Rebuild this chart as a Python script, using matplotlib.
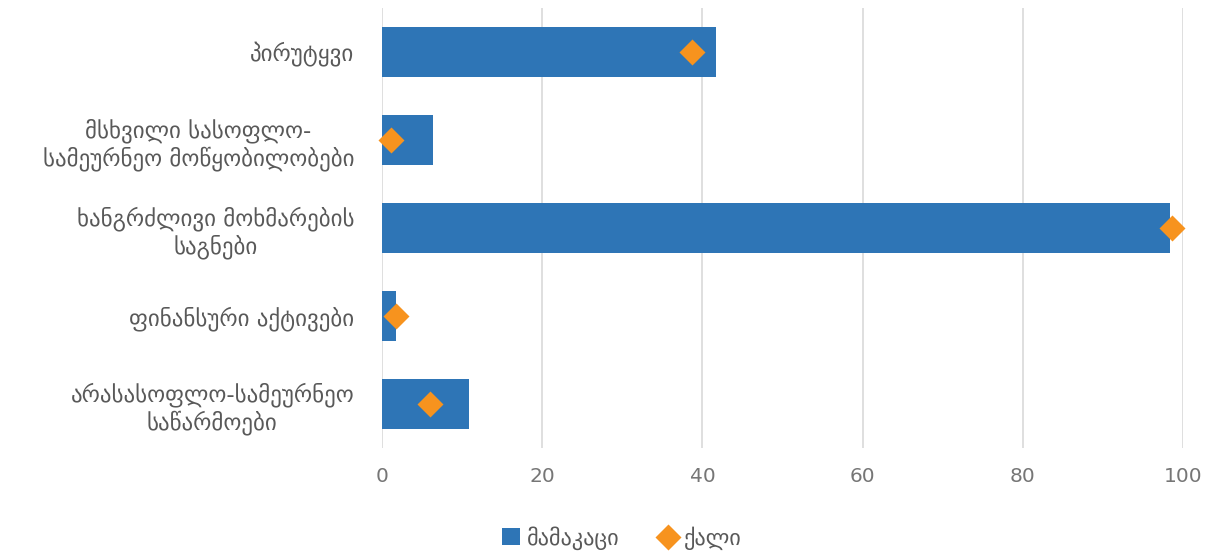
import numpy as np
import matplotlib.pyplot as plt

plt.rcParams['font.family'] = ['DejaVu Sans']

categories = ["არასასოფლო-სამეურნეო\nსაწარმოები",
              "ფინანსური აქტივები",
              "ხანგრძლივი მოხმარების\nსაგნები",
              "მსხვილი სასოფლო-\nსამეურნეო მოწყობილობები",
              "პირუტყვი"]
men = [10.8, 1.8, 98.4, 6.4, 41.7]
women = [6.0, 1.7, 98.6, 1.1, 38.7]
xticks = [0, 20, 40, 60, 80, 100]

BLUE = "#2E75B6"; ORANGE = "#F7931E"; GREY = "#595959"

fig = plt.figure(figsize=(12.09, 5.55), dpi=100)
ax = fig.add_axes([382 / 1209, 1 - 448 / 555, (1183 - 382) / 1209, (448 - 8) / 555])
y = np.arange(len(categories))
bars = ax.barh(y, men, height=0.57, color=BLUE, label="მამაკაცი", zorder=2)
pts, = ax.plot(women, y, "D", color=ORANGE, ms=13, mec="none", label="ქალი", zorder=3, clip_on=False)

ax.set_xlim(0, 100); ax.set_ylim(-0.5, 4.5)
ax.set_xticks(xticks)
ax.set_yticks(y)
ax.set_yticklabels(categories, multialignment="center")
ax.grid(axis="x", color="#D9D9D9", lw=1.2, zorder=0)
ax.grid(axis="y", visible=False)
for s in ax.spines.values():
    s.set_visible(False)
ax.tick_params(length=0, colors=GREY, labelsize=14.5)
ax.tick_params(axis="x", pad=14, colors="#767676")
ax.tick_params(axis="y", pad=20, labelsize=16.5)

fig.legend([bars, pts], ["მამაკაცი", "ქალი"], loc="center", bbox_to_anchor=(622 / 1209, 1 - 538 / 555),
           ncol=2, frameon=False, fontsize=16, labelcolor=GREY, handlelength=0.8,
           handletextpad=0.3, columnspacing=1.8, handleheight=0.8)
fig.savefig("out.png", dpi=100)
